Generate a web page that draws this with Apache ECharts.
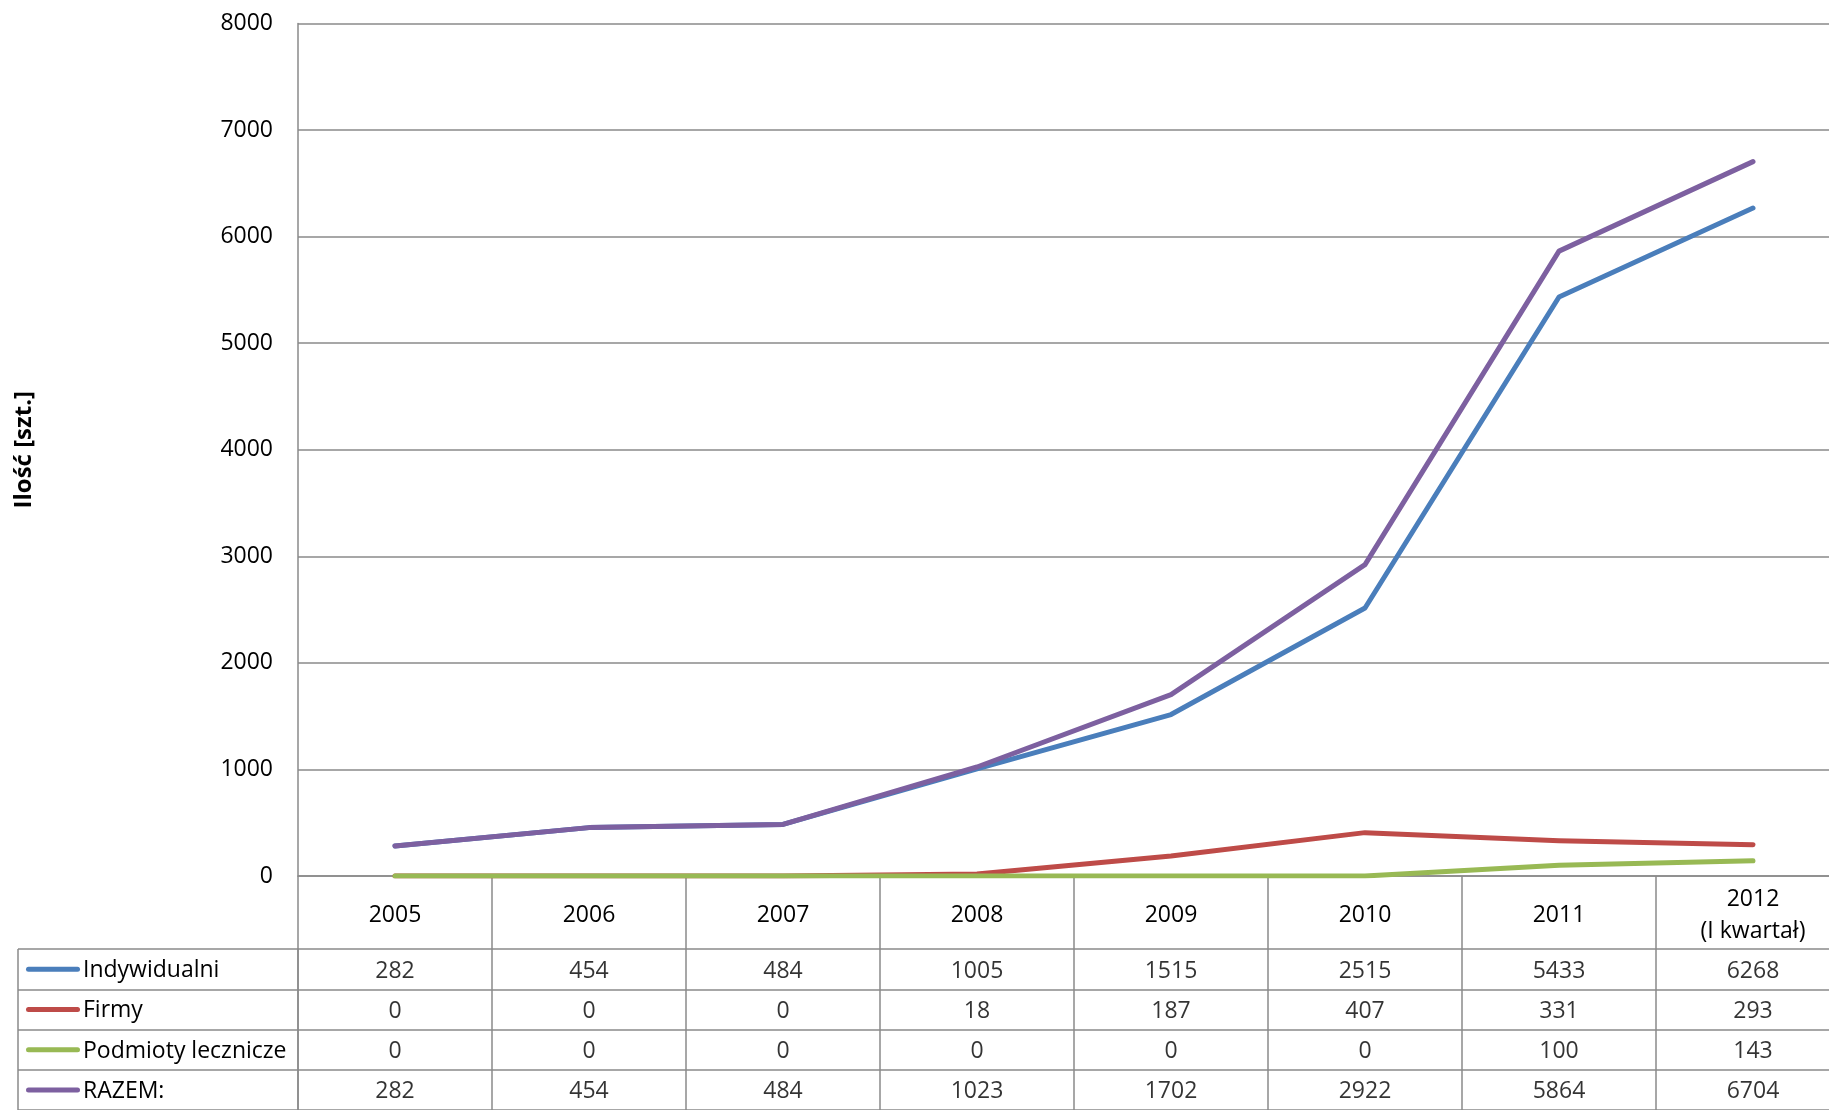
<!DOCTYPE html>
<html>
<head>
<meta charset="utf-8">
<script src="https://cdn.jsdelivr.net/npm/echarts@6/dist/echarts.min.js"></script>
<style>
html, body { margin: 0; padding: 0; background: #fff; overflow: hidden; }
#chart { width: 1850px; height: 1110px; }
</style>
</head>
<body>
<div id="chart"></div>
<script>
const years = ['2005', '2006', '2007', '2008', '2009', '2010', '2011', '2012\n(I kwartał)']
const seriesNames = ['Indywidualni', 'Firmy', 'Podmioty lecznicze', 'RAZEM:']
const indywidualni = [282, 454, 484, 1005, 1515, 2515, 5433, 6268]
const firmy = [0, 0, 0, 18, 187, 407, 331, 293]
const podmioty = [0, 0, 0, 0, 0, 0, 100, 143]
const razem = [282, 454, 484, 1023, 1702, 2922, 5864, 6704]
const colors = ['#4a7ebb', '#be4b48', '#98b954', '#7d60a0']

const FONT = 'Open Sans'
const FS = 23
const GRID_COLOR = '#8a8a8a'
const allValues = [indywidualni, firmy, podmioty, razem]

// table cells: [column, row, value]
let cells = []
allValues.forEach((arr, r) => {
  arr.forEach((v, c) => cells.push([c, r, v]))
})

let rich = {}
colors.forEach((c, i) => {
  rich['k' + i] = { width: 54, height: 5, backgroundColor: c, borderRadius: 3 }
})
rich.t = { fontFamily: FONT, fontSize: FS, color: '#000', padding: [3, 0, 0, 3] }

let chart = echarts.init(document.getElementById('chart'))
let chartOpt = {
  animation: false,
  color: colors,
  grid: [
    { left: 298, top: 23.5, width: 1552, height: 852.5 },
    { left: 298, top: 949, width: 1552, height: 166 }
  ],
  xAxis: [{
    type: 'category',
    gridIndex: 0,
    data: years,
    boundaryGap: true,
    axisLine: { show: true, lineStyle: { color: GRID_COLOR, width: 1.5 } },
    axisTick: { show: true, length: 73, lineStyle: { color: GRID_COLOR, width: 1.5 } },
    axisLabel: {
      margin: 39,
      verticalAlign: 'middle',
      fontFamily: FONT,
      fontSize: FS,
      lineHeight: 32,
      color: '#000'
    },
    splitLine: { show: false }
  }, {
    type: 'category',
    gridIndex: 1,
    data: years,
    boundaryGap: true,
    axisLine: { show: false },
    axisTick: { show: false },
    axisLabel: { show: false },
    splitLine: { show: true, lineStyle: { color: GRID_COLOR, width: 1.5 } }
  }],
  yAxis: [{
    type: 'value',
    gridIndex: 0,
    min: 0,
    max: 8000,
    interval: 1000,
    name: 'Ilość [szt.]',
    nameLocation: 'middle',
    nameGap: 262,
    nameTextStyle: { fontFamily: FONT, fontSize: 24, fontWeight: 'bold', color: '#000' },
    axisLine: { show: true, lineStyle: { color: GRID_COLOR, width: 1.5 } },
    axisTick: { show: false },
    axisLabel: { margin: 25, fontFamily: FONT, fontSize: FS, color: '#000', formatter: v => String(v) },
    splitLine: { show: true, lineStyle: { color: GRID_COLOR, width: 1.5 } }
  }, {
    type: 'category',
    gridIndex: 1,
    inverse: true,
    data: seriesNames,
    boundaryGap: true,
    axisLine: { show: true, lineStyle: { color: GRID_COLOR, width: 1.5 } },
    axisTick: { show: true, length: 280, lineStyle: { color: GRID_COLOR, width: 1.5 } },
    axisLabel: {
      align: 'left',
      margin: 272,
      formatter: (val, idx) => '{k' + idx + '|}{t|' + val + '}',
      rich: rich
    },
    splitLine: { show: true, showMinLine: true, showMaxLine: true, lineStyle: { color: GRID_COLOR, width: 1.5 } }
  }],
  graphic: [{
    type: 'line',
    shape: { x1: 18, y1: 949, x2: 18, y2: 1115 },
    style: { stroke: GRID_COLOR, lineWidth: 1.5 }
  }],
  series: [
    {
      name: seriesNames[0], type: 'line', data: indywidualni, symbol: 'none',
      lineStyle: { width: 5, cap: 'round', join: 'round' }
    },
    {
      name: seriesNames[1], type: 'line', data: firmy, symbol: 'none',
      lineStyle: { width: 5, cap: 'round', join: 'round' }
    },
    {
      name: seriesNames[2], type: 'line', data: podmioty, symbol: 'none',
      lineStyle: { width: 5, cap: 'round', join: 'round' }
    },
    {
      name: seriesNames[3], type: 'line', data: razem, symbol: 'none',
      lineStyle: { width: 5, cap: 'round', join: 'round' }
    },
    {
      type: 'scatter',
      xAxisIndex: 1,
      yAxisIndex: 1,
      symbolSize: 0,
      silent: true,
      data: cells,
      label: {
        show: true,
        position: 'inside',
        offset: [0, 2],
        formatter: p => String(p.value[2]),
        fontFamily: FONT,
        fontSize: FS,
        color: '#000'
      }
    }
  ]
}

chart.setOption(chartOpt)
</script>
</body>
</html>
